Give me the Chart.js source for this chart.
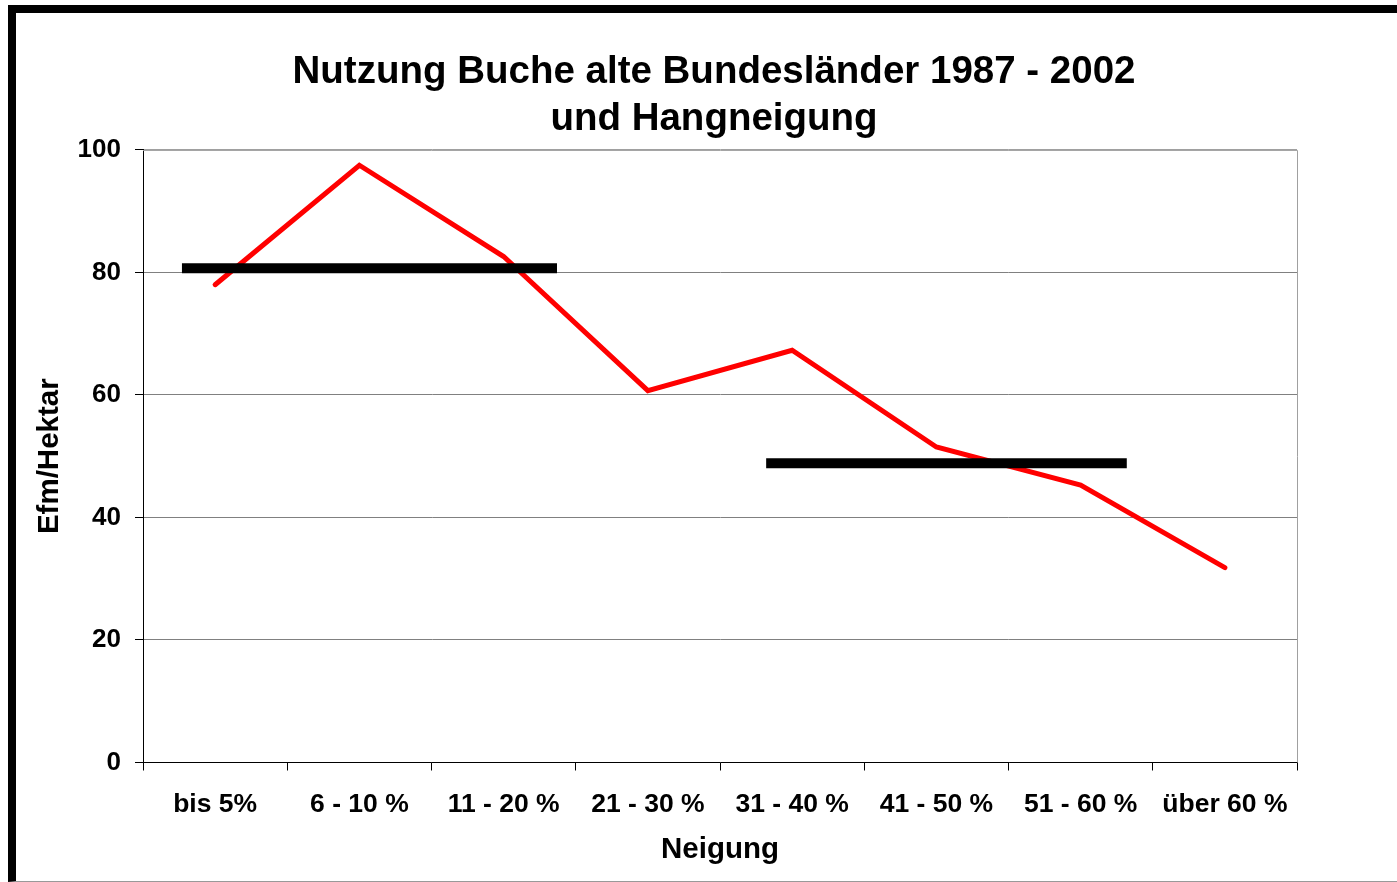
<!DOCTYPE html>
<html>
<head>
<meta charset="utf-8">
<script src="https://cdn.jsdelivr.net/npm/chart.js@4/dist/chart.umd.min.js"></script>
<style>
  html, body { margin: 0; padding: 0; background: #fff; overflow: hidden; }
  #frame {
    position: absolute; left: 8px; top: 5px;
    width: 1400px; height: 868px;
    border-left: 8px solid #000; border-top: 8px solid #000; border-bottom: 1px solid #999;
    background: #fff;
  }
  canvas { display: block; }
</style>
</head>
<body>
<div id="frame"><canvas id="c" width="1381" height="868"></canvas></div>
<script>
const categories = ['bis 5%', '6 - 10 %', '11 - 20 %', '21 - 30 %', '31 - 40 %', '41 - 50 %', '51 - 60 %', 'über 60 %'];
const nutzung = [78.0, 97.5, 82.6, 60.7, 67.3, 51.5, 45.3, 31.8];
// horizontal mean bars: [start position, end position] in category units, and level
const meanLowX = [-0.23, 2.37];
const meanLowY = 80.7;
const meanHighX = [3.82, 6.32];
const meanHighY = 48.85;
const yTicks = [0, 20, 40, 60, 80, 100];
const titleLines = ['Nutzung Buche alte Bundesländer 1987 - 2002', 'und Hangneigung'];
const xTitle = 'Neigung';
const yTitle = 'Efm/Hektar';

const FONT = '"Liberation Sans", Arial, sans-serif';

const frameBorder = {
  id: 'frameBorder',
  beforeDatasetsDraw(chart) {
    const { ctx, chartArea: a } = chart;
    ctx.save();
    ctx.strokeStyle = '#a0a0a0';
    ctx.lineWidth = 1;
    ctx.beginPath();
    ctx.moveTo(a.left, a.top + 0.5);
    ctx.lineTo(a.right + 0.5, a.top + 0.5);
    ctx.lineTo(a.right + 0.5, a.bottom);
    ctx.stroke();
    ctx.restore();
  }
};

new Chart(document.getElementById('c'), {
  type: 'line',
  data: {
    labels: categories,
    datasets: [
      {
        data: meanLowX.map(x => ({ x: x, y: meanLowY })),
        xAxisID: 'x2',
        borderColor: '#000',
        borderWidth: 10,
        borderCapStyle: 'butt',
        pointRadius: 0,
        fill: false
      },
      {
        data: meanHighX.map(x => ({ x: x, y: meanHighY })),
        xAxisID: 'x2',
        borderColor: '#000',
        borderWidth: 10,
        borderCapStyle: 'butt',
        pointRadius: 0,
        fill: false
      },
      {
        data: nutzung,
        xAxisID: 'x',
        borderColor: '#ff0000',
        borderWidth: 5,
        borderCapStyle: 'round',
        borderJoinStyle: 'miter',
        pointRadius: 0,
        tension: 0,
        fill: false
      }
    ]
  },
  options: {
    responsive: false,
    animation: false,
    devicePixelRatio: 1,
    layout: { padding: { left: 15, right: 0, top: 0, bottom: 0 } },
    plugins: {
      legend: { display: false },
      tooltip: { enabled: false },
      title: {
        display: true,
        text: titleLines,
        color: '#000',
        font: { family: FONT, size: 38.5, weight: 'bold', lineHeight: 1.22 },
        padding: { top: 36, bottom: 7 }
      }
    },
    scales: {
      x: {
        type: 'category',
        offset: true,
        grid: {
          offset: true,
          drawOnChartArea: false,
          drawTicks: true,
          tickLength: 8,
          color: '#000',
          tickColor: '#000'
        },
        border: { display: true, color: '#000', width: 1 },
        ticks: {
          color: '#000',
          font: { family: FONT, size: 26.5, weight: 'bold' },
          padding: 18,
          maxRotation: 0,
          autoSkip: false
        },
        title: {
          display: true,
          text: xTitle,
          color: '#000',
          font: { family: FONT, size: 29.5, weight: 'bold' },
          padding: { top: 0, bottom: 13 }
        },
        afterFit(scale) { scale.height = 118.5; }
      },
      x2: {
        type: 'linear',
        display: false,
        min: -0.5,
        max: 7.5
      },
      y: {
        min: 0,
        max: 100,
        afterBuildTicks(scale) { scale.ticks = yTicks.map(v => ({ value: v })); },
        grid: {
          color: ctx => (ctx.tick && ctx.tick.value === 100) ? '#a0a0a0' : '#808080',
          tickColor: '#000',
          tickLength: 8,
          drawTicks: true
        },
        border: { display: true, color: '#000', width: 1 },
        ticks: {
          color: '#000',
          font: { family: FONT, size: 26, weight: 'bold' },
          padding: 14
        },
        title: {
          display: true,
          text: yTitle,
          color: '#000',
          font: { family: FONT, size: 29.5, weight: 'bold' },
          padding: { top: 1.3, bottom: 0 }
        },
        afterFit(scale) { scale.width = 112; }
      },
      yr: {
        position: 'right',
        display: true,
        min: 0,
        max: 100,
        grid: { display: false, drawTicks: false },
        border: { display: false },
        ticks: { display: false },
        afterFit(scale) { scale.width = 100; }
      }
    }
  },
  plugins: [frameBorder]
});
</script>
</body>
</html>
